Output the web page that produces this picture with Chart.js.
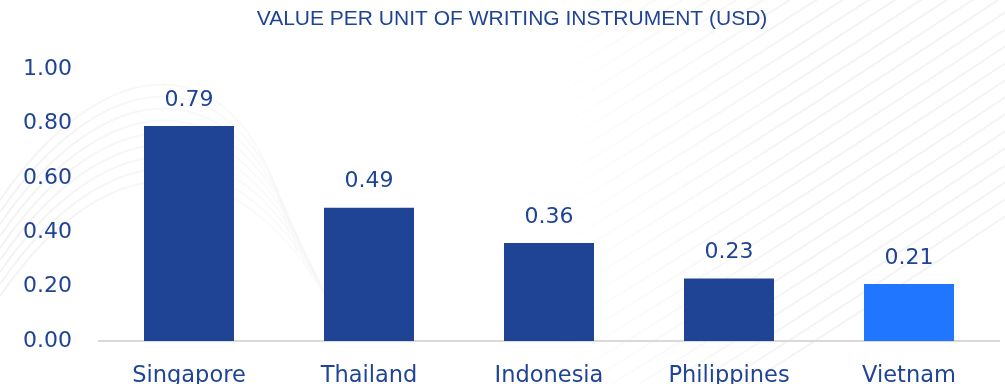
<!DOCTYPE html>
<html>
<head>
<meta charset="utf-8">
<script src="https://cdn.jsdelivr.net/npm/chart.js@4.4.1/dist/chart.umd.min.js"></script>
<style>
  html, body { margin: 0; padding: 0; background: #ffffff; overflow: hidden; }
  #wrap { width: 1005px; height: 384px; position: relative; }
</style>
</head>
<body>
<div id="wrap"><canvas id="chart" width="1005" height="384"></canvas></div>
<script>
// ---- data ----
const countries = ["Singapore", "Thailand", "Indonesia", "Philippines", "Vietnam"];
const unitValues = [0.79, 0.49, 0.36, 0.23, 0.21];
const barColors = ["#1f4496", "#1f4496", "#1f4496", "#1f4496", "#2176ff"];
const yTicks = [0.0, 0.2, 0.4, 0.6, 0.8, 1.0];
const chartTitle = "VALUE PER UNIT OF WRITING INSTRUMENT (USD)";

const NAVY = "#1f4496";
const FONT = "'DejaVu Sans', sans-serif";
const TITLE_FONT = "'Liberation Sans', Arial, sans-serif";

// faint swoosh lines in the background
const backdrop = {
  id: "backdrop",
  beforeDraw(chart) {
    const ctx = chart.ctx;
    ctx.save();
    ctx.lineWidth = 2;

    // right side: diagonal strokes rising to the right, fading in from the left
    const fadeR = ctx.createLinearGradient(540, 0, 800, 0);
    fadeR.addColorStop(0, "rgba(238,238,238,0)");
    fadeR.addColorStop(1, "rgba(238,238,238,0.7)");
    ctx.strokeStyle = fadeR;
    for (let i = 0; i < 30; i++) {
      const c = 20 + i * 17;
      ctx.beginPath();
      ctx.moveTo(540, c);
      ctx.quadraticCurveTo(770, c - 140, 1010, c - 300);
      ctx.stroke();
    }

    // left side: arches near the top-left corner
    const fadeL = ctx.createLinearGradient(0, 0, 320, 0);
    fadeL.addColorStop(0, "rgba(238,238,238,0.7)");
    fadeL.addColorStop(1, "rgba(238,238,238,0.2)");
    ctx.strokeStyle = fadeL;
    for (let i = 0; i < 9; i++) {
      const off = i * 12;
      ctx.beginPath();
      ctx.moveTo(0, 200 + off);
      ctx.bezierCurveTo(110, 40 + off, 250, 40 + off, 290 + off * 0.6, 240 + off);
      ctx.stroke();
    }
    ctx.restore();
  }
};

// value labels above each bar
const valueLabels = {
  id: "valueLabels",
  afterDatasetsDraw(chart) {
    const ctx = chart.ctx;
    const meta = chart.getDatasetMeta(0);
    ctx.save();
    ctx.fillStyle = NAVY;
    ctx.font = "22px " + FONT;
    ctx.textAlign = "center";
    ctx.textBaseline = "middle";
    meta.data.forEach((bar, i) => {
      ctx.fillText(unitValues[i].toFixed(2), bar.x, bar.y - 26);
    });
    ctx.restore();
  }
};

// title text at the top
const topTitle = {
  id: "topTitle",
  afterDraw(chart) {
    const ctx = chart.ctx;
    ctx.save();
    ctx.fillStyle = NAVY;
    ctx.font = "21px " + TITLE_FONT;
    ctx.textAlign = "center";
    ctx.textBaseline = "middle";
    ctx.fillText(chartTitle, 512, 19);
    ctx.restore();
  }
};

new Chart(document.getElementById("chart"), {
  type: "bar",
  data: {
    labels: countries,
    datasets: [{
      data: unitValues,
      backgroundColor: barColors,
      barPercentage: 0.5,
      categoryPercentage: 1.0
    }]
  },
  options: {
    responsive: false,
    animation: false,
    layout: { padding: { top: 69, right: 6, left: 0, bottom: 0 } },
    plugins: {
      legend: { display: false },
      tooltip: { enabled: false },
      title: { display: false }
    },
    scales: {
      x: {
        grid: { display: false, drawTicks: false },
        border: { color: "#d9d9d9", width: 2 },
        ticks: {
          color: NAVY,
          font: { family: FONT, size: 22.5 },
          padding: 22
        },
        afterFit(scale) { scale.height = 43; }
      },
      y: {
        min: 0,
        max: 1,
        grid: { display: false, drawTicks: false },
        border: { display: false },
        afterBuildTicks(scale) {
          scale.ticks = yTicks.map(v => ({ value: v }));
        },
        ticks: {
          color: NAVY,
          font: { family: FONT, size: 22 },
          padding: 27,
          callback: v => Number(v).toFixed(2)
        },
        afterFit(scale) { scale.width = 99; }
      }
    }
  },
  plugins: [backdrop, valueLabels, topTitle]
});
</script>
</body>
</html>
